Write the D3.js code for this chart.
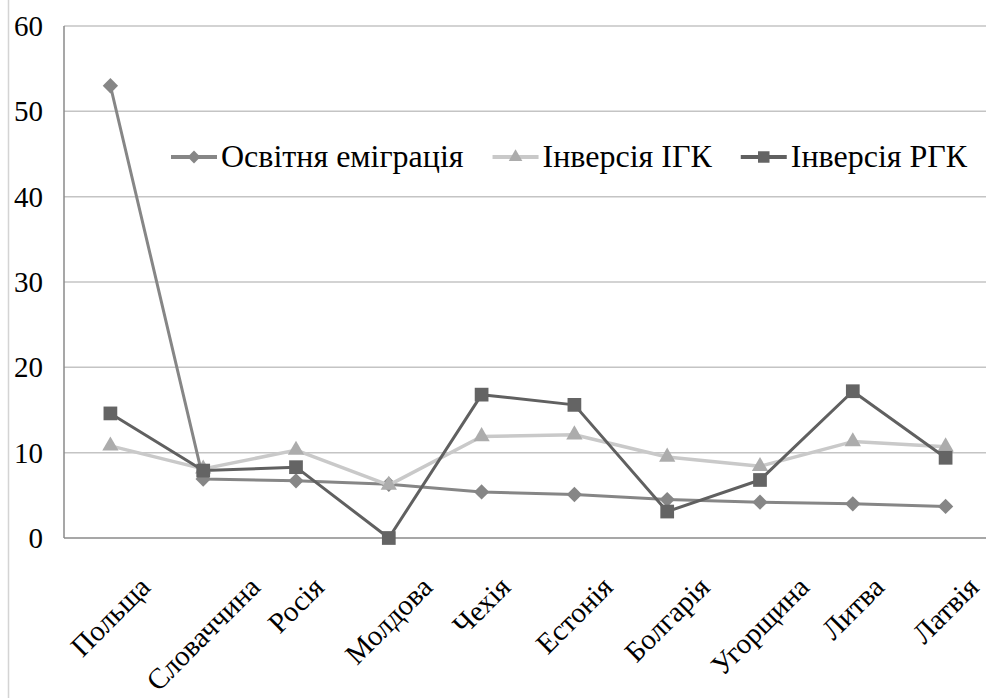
<!DOCTYPE html>
<html>
<head>
<meta charset="utf-8">
<script src="https://cdn.jsdelivr.net/npm/d3@7"></script>
</head>
<body style="margin:0">
<script>

// Data
var countries = ['Польща', 'Словаччина', 'Росія', 'Молдова', 'Чехія', 'Естонія', 'Болгарія', 'Угорщина', 'Литва', 'Латвія']
var eduEmigration = [53.0, 6.9, 6.7, 6.3, 5.4, 5.1, 4.5, 4.2, 4.0, 3.7]
var inversionIGK = [10.8, 8.1, 10.3, 6.2, 11.9, 12.1, 9.5, 8.4, 11.3, 10.7]
var inversionRGK = [14.6, 7.9, 8.3, 0.0, 16.8, 15.6, 3.1, 6.8, 17.2, 9.4]
var seriesNames = ['Освітня еміграція', 'Інверсія ІГК', 'Інверсія РГК']
var yTicks = [0, 10, 20, 30, 40, 50, 60]

var FONT = 'Liberation Serif'

// text widths from a canvas, not from the svg
var ctx = document.createElement('canvas').getContext('2d')
function textWidth(str, size) {
  ctx.font = size + 'px "Liberation Serif", serif'
  return ctx.measureText(str).width
}

// Set the dimensions of the canvas / graph
var W = 986, H = 698
var margin = {top: 26, left: 64, bottom: 160, right: -6}
var plotW = W - margin.left - margin.right
var plotH = H - margin.top - margin.bottom

var series = [
  {name: seriesNames[0], values: eduEmigration, line: '#868686', fill: '#868686', shape: d3.symbolDiamond2, size: 150, width: 3},
  {name: seriesNames[1], values: inversionIGK, line: '#c9c9c9', fill: '#acacac', shape: d3.symbolTriangle2, size: 190, width: 3.5},
  {name: seriesNames[2], values: inversionRGK, line: '#606060', fill: '#646464', shape: d3.symbolSquare2, size: 240, width: 3}
]

var svg = d3.select('body').append('svg')
  .attr('width', W)
  .attr('height', H)

// chart area border (only left edge visible)
svg.append('line')
  .attr('x1', 8.5).attr('x2', 8.5)
  .attr('y1', 0).attr('y2', H)
  .attr('stroke', '#d4d4d4').attr('stroke-width', 1.5)

var g = svg.append('g')
  .attr('transform', 'translate(' + margin.left + ',' + margin.top + ')')

// Set the ranges
var xScale = d3.scalePoint().domain(countries).range([0, plotW]).padding(0.5)
var yScale = d3.scaleLinear().domain([0, 60]).range([plotH, 0])

// gridlines
g.selectAll('.grid')
  .data(yTicks)
  .enter().append('line')
  .attr('x1', 0).attr('x2', plotW)
  .attr('y1', function(d) { return yScale(d) })
  .attr('y2', function(d) { return yScale(d) })
  .attr('stroke', function(d) { return d === 0 ? '#8a8a8a' : '#c4c4c4' })
  .attr('stroke-width', 1.5)

// y labels
g.selectAll('.ylab')
  .data(yTicks)
  .enter().append('text')
  .attr('x', -21)
  .attr('y', function(d) { return yScale(d) + 10 })
  .attr('font-family', FONT)
  .attr('font-size', 29)
  .attr('text-anchor', 'end')
  .text(function(d) { return d })

// left axis line
g.append('line')
  .attr('x1', 0).attr('x2', 0)
  .attr('y1', 0).attr('y2', plotH)
  .attr('stroke', '#8a8a8a').attr('stroke-width', 1.5)

// category labels, rotated -45, box centred on the category, top aligned
var labelTop = plotH + 37
var fs = 29
g.selectAll('.cat')
  .data(countries)
  .enter().append('text')
  .attr('font-family', FONT)
  .attr('font-size', fs)
  .attr('text-anchor', 'middle')
  .attr('transform', function(d) {
    var L = textWidth(d, fs)
    var half = (L + fs * 0.7) * Math.SQRT1_2 / 2
    return 'translate(' + xScale(d) + ',' + (labelTop + half) + ') rotate(-45) translate(0,' + (fs * 0.33) + ')'
  })
  .text(function(d) { return d })

// Define the line
var lineGenerator = d3.line()
  .x(function(d, i) { return xScale(countries[i]) })
  .y(function(d) { return yScale(d) })

series.forEach(function(s) {
  g.append('path')
    .attr('d', lineGenerator(s.values))
    .attr('fill', 'none')
    .attr('stroke', s.line)
    .attr('stroke-width', s.width)
    .attr('stroke-linejoin', 'round')

  g.selectAll(null)
    .data(s.values)
    .enter().append('path')
    .attr('d', d3.symbol().type(s.shape).size(s.size))
    .attr('transform', function(d, i) {
      return 'translate(' + xScale(countries[i]) + ',' + yScale(d) + ')'
    })
    .attr('fill', s.fill)
})

// legend
var legend = svg.append('g').attr('transform', 'translate(171,157)')
var lx = 0
series.forEach(function(s) {
  var item = legend.append('g').attr('transform', 'translate(' + lx + ',0)')
  item.append('line')
    .attr('x1', 0).attr('x2', 46)
    .attr('stroke', s.line).attr('stroke-width', 4)
  item.append('path')
    .attr('d', d3.symbol().type(s.shape).size(s.size * 0.7))
    .attr('transform', 'translate(23,0)')
    .attr('fill', s.fill)
  item.append('text')
    .attr('x', 50)
    .attr('y', 10)
    .attr('font-family', FONT)
    .attr('font-size', 32)
    .text(s.name)
  lx += 50 + textWidth(s.name, 32) + 29
})

</script>
</body>
</html>
